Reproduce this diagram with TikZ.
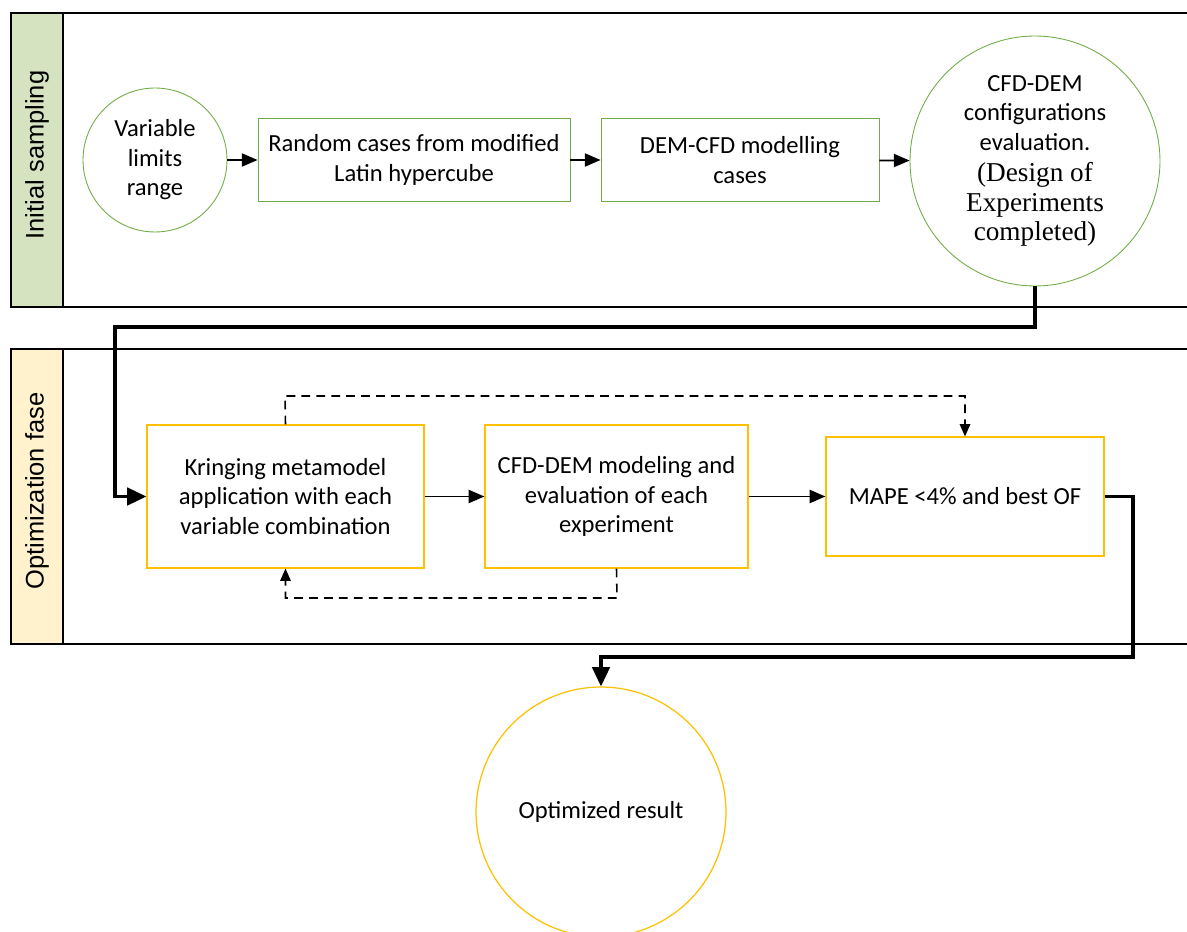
\documentclass[tikz,border=0pt]{standalone}
\usepackage{fontspec}
\setmainfont{Carlito}
\newfontfamily\lanefont{Liberation Sans}
\newfontfamily\doefont{Liberation Serif}
\usepackage{tikz}
\usetikzlibrary{arrows.meta,calc}
\usepackage{xcolor}
\definecolor{phaseGreen}{HTML}{D5E3C1}
\definecolor{phaseYellow}{HTML}{FFF2CC}
\definecolor{lineGreen}{HTML}{70AD47}
\definecolor{lineYellow}{HTML}{FFC000}
\tikzset{
  lane/.style={-,draw=black,line width=1.1pt},
  gbox/.style={draw=lineGreen,line width=0.5pt,align=center,inner sep=2pt},
  ybox/.style={draw=lineYellow,line width=0.7pt,align=center,inner sep=2pt},
  gcirc/.style={circle,draw=lineGreen,line width=0.5pt,align=center,inner sep=0pt},
  ycirc/.style={circle,draw=lineYellow,line width=0.7pt,align=center,inner sep=0pt},
  flow/.style={-{Triangle[length=11pt,width=10pt]},line width=1.8pt},
  loopback/.style={-{Triangle[length=7pt,width=6pt]},dashed,line width=0.9pt,dash pattern=on 5pt off 3.5pt},
  doe/.style={font=\doefont\fontsize{15.5}{17}\selectfont}
}

\begin{document}
\begin{tikzpicture}[x=0.02cm,y=-0.02cm,->,>={Triangle[length=9pt,width=7.5pt]},line width=1pt,font=\fontsize{14}{16.8}\selectfont]
		\useasboundingbox (0,0) rectangle (1187,932);
		% swim lanes
		\draw[lane] (1187,13) -- (11,13) -- (11,307) -- (1187,307);
		\draw[lane,fill=phaseGreen] (11,13) rectangle (63,307);
		\node[rotate=90,font=\lanefont\fontsize{14.5}{17}\selectfont] (l1) at (37,155) {Initial sampling};
		\draw[lane] (1187,349) -- (11,349) -- (11,644) -- (1187,644);
		\draw[lane,fill=phaseYellow] (11,349) rectangle (63,644);
		\node[rotate=90,font=\lanefont\fontsize{14.5}{17}\selectfont] (l2) at (37,491) {Optimization fase};
		
		\node[gcirc,minimum size=2.88cm] (n1) at (155,160) {Variable\\limits\\range};
		\node[gbox,minimum width=6.24cm,minimum height=1.66cm] (n2) at (414,160) {Random cases from modified\\Latin hypercube};
		\node[gbox,minimum width=5.56cm,minimum height=1.66cm] (n3) at (740,160) {DEM-CFD modelling\\cases};
		\node[gcirc,minimum size=5cm] (n4) at (1035,161) {CFD-DEM\\configurations\\evaluation.\\[1pt]{\doefont\fontsize{15.5}{17}\selectfont (Design of}\\{\doefont\fontsize{15.5}{17}\selectfont Experiments}\\{\doefont\fontsize{15.5}{17}\selectfont completed)}};
		
		\node[ybox,minimum width=5.54cm,minimum height=2.86cm] (n5) at (285.5,496.5) {Kringing metamodel\\application with each\\variable combination};
		\node[ybox,minimum width=5.26cm,minimum height=2.86cm] (n6) at (616.5,496.5) {CFD-DEM modeling and\\evaluation of each\\experiment};
		\node[ybox,minimum width=5.56cm,minimum height=2.38cm] (n7) at (965,496.5) {MAPE {<}4\% and best OF};
		\node[ycirc,minimum size=5cm] (n8) at (601,812) {Optimized result};
		
		\coordinate (c1) at (115,327);
		\coordinate (c2) at (1133,657);
		\coordinate (c3) at (285,396);
		\coordinate (c4) at (617,598);
		
		\path[->] (n1) edge (n2);
		\path[->] (n2) edge (n3);
		\path[->] (n3) edge (n4);
		\path[->] (n5) edge (n6);
		\path[->] (n6) edge (n7);
		
		\draw[flow] (n4.south) |- (c1) |- (n5.west);
		\draw[flow] (n7.east) -| (c2) -| (n8.north);
		\draw[loopback] (n5.north) -- (c3) -| (n7.north);
		\draw[loopback] (n6.south) -- (c4) -| (n5.south);
\end{tikzpicture}
\end{document}
